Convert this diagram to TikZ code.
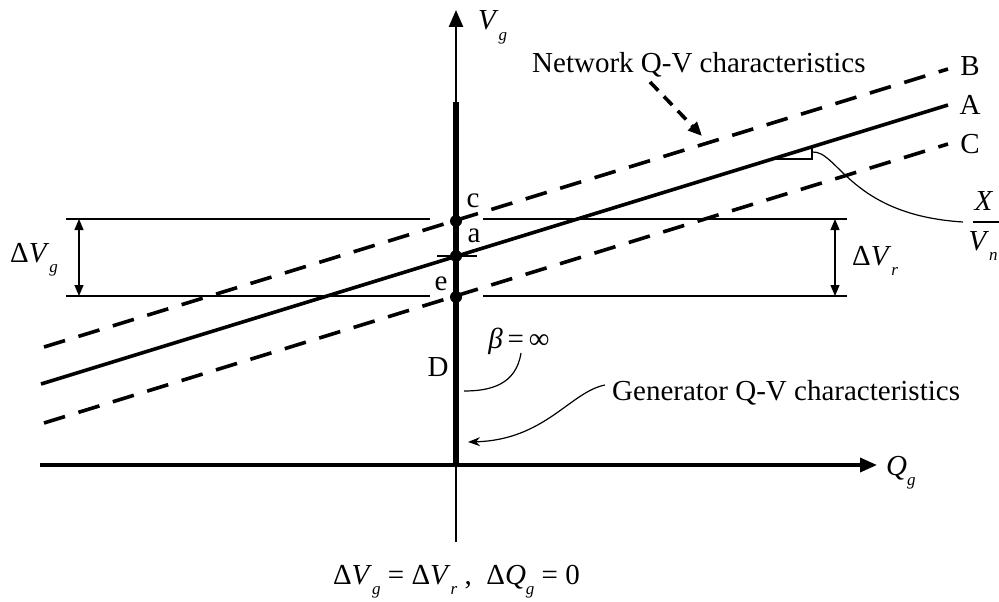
\documentclass[tikz,border=0pt]{standalone}
\usepackage{fontspec}
\setmainfont{Liberation Serif}
\usetikzlibrary{arrows.meta}
\newcommand{\vsub}[2]{\textit{#1}\raisebox{-0.35em}{\fontsize{17}{17}\selectfont\textit{#2}}}
\begin{document}
\begin{tikzpicture}[x=1pt,y=-1pt,font=\fontsize{29}{34}\selectfont,
  curve/.style={line width=3.6pt},
  dashcurve/.style={line width=3.6pt,dash pattern=on 22pt off 14pt},
  thinline/.style={line width=1.2pt},
  dot/.style={circle,fill,inner sep=0pt,minimum size=12pt},
  lbl/.style={inner sep=0pt,anchor=base}]
\useasboundingbox(0,0)rectangle(999,602);
\coordinate(O)at(456,465);\coordinate(Vtop)at(456,10);\coordinate(Vbot)at(456,542);
\coordinate(Qbeg)at(40,465);\coordinate(Qend)at(877,465);\coordinate(G)at(456,102);
\coordinate(A1)at(41,384);\coordinate(A2)at(948,105);
\coordinate(B1)at(44,347);\coordinate(B2)at(948,69);
\coordinate(C1)at(44,423);\coordinate(C2)at(948,144);
% axes and generator characteristic
\draw[line width=2.6pt,-{Triangle[length=17pt,width=14pt]}](Vbot)--(Vtop);
\draw[line width=3.6pt,-{Triangle[length=17pt,width=14pt]}](Qbeg)--(Qend);
\draw[line width=6.5pt](G)--(O);
% network characteristics
\draw[curve](A1)--(A2);
\draw[dashcurve](B1)--(B2) (C1)--(C2);
\node[dot](c)at(456,221){};\node[dot](a)at(456,256){};\node[dot](e)at(456,297){};
\draw[line width=2.6pt](437,256)--(477,256);
% levels
\coordinate(L1)at(66,219);\coordinate(L2)at(430,219);\coordinate(R1)at(483,219);\coordinate(R2)at(847,219);
\coordinate(L3)at(66,296);\coordinate(L4)at(430,296);\coordinate(R3)at(483,296);\coordinate(R4)at(847,296);
\draw[thinline](L1)--(L2) (R1)--(R2) (L3)--(L4) (R3)--(R4);
\draw[thinline,{Triangle[length=11pt,width=9pt]}-{Triangle[length=11pt,width=9pt]}](79,219)--(79,296);
\draw[thinline,{Triangle[length=11pt,width=9pt]}-{Triangle[length=11pt,width=9pt]}](835,219)--(835,296);
% slope marker
\draw[thinline](773,159)--(812,159)--(812,147);
\draw[thinline](812,152)..controls(838,150)and(850,215)..(963,222);
\draw[thinline](973,222)--(1010,222);
% labels
\foreach\t/\x/\y in{B/970/76,A/970/114,C/970/153,c/473/207,a/474/242,e/441/290,D/438/376}{\node[lbl]at(\x,\y){\t};}
\node[lbl,anchor=base west](vg)at(478,30){\vsub{V}{g}};
\node[lbl,anchor=base west](qg)at(886,475){\vsub{Q}{g}};
\node[lbl,anchor=base west](net)at(532,73){Network Q-V characteristics};
\node[lbl,anchor=base west](gen)at(612,400){Generator Q-V characteristics};
\node[lbl](beta)at(519,348){\textit{β}\,=\,∞};
\node[lbl,anchor=base west](dvg)at(10,262){Δ\vsub{V}{g}};
\node[lbl,anchor=base west](dvr)at(852,265){Δ\vsub{V}{r}};
\node[lbl](x)at(984,210){\textit{X}};
\node[lbl](vn)at(983,250){\vsub{V}{n}};
\node[lbl,anchor=base east](eq)at(580,584){Δ\vsub{V}{g} = Δ\vsub{V}{r} ,\enspace Δ\vsub{Q}{g} = 0};
% pointers
\draw[curve,dash pattern=on 12pt off 8pt,-{Triangle[length=14pt,width=12pt]}](650,82)--(702,136);
\draw[thinline](521,353)..controls(516,385)and(490,391)..(464,391);
\draw[thinline,-{Stealth[length=12pt,width=9pt]}](605,385)..controls(570,392)and(545,440)..(468,442);
\end{tikzpicture}
\end{document}
